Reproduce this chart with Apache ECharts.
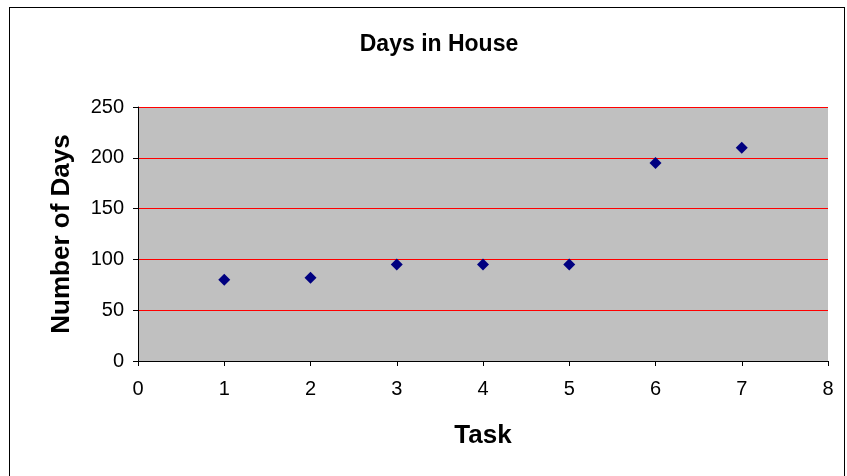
<!DOCTYPE html>
<html>
<head>
<meta charset="utf-8">
<script src="https://cdn.jsdelivr.net/npm/echarts@6/dist/echarts.min.js"></script>
<style>
  html, body { margin: 0; padding: 0; background: #fff; }
  #frame { position: absolute; left: 9px; top: 7px; width: 836px; height: 480px; border: 1px solid #000; box-sizing: border-box; }
  #chart { position: absolute; left: 0; top: 0; width: 847px; height: 476px; }
</style>
</head>
<body>
<div id="frame"></div>
<div id="chart"></div>
<script>
// data
var tasks = [1, 2, 3, 4, 5, 6, 7];
var days = [80, 82, 95, 95, 95, 195, 210];

var points = tasks.map(function (t, i) { return [t, days[i]]; });

var myChart = echarts.init(document.getElementById('chart'));
var font = 'Liberation Sans, Arial, sans-serif';

myChart.setOption({
  animation: false,
  title: {
    text: 'Days in House',
    left: 434, top: 28, textAlign: 'center',
    textStyle: { fontFamily: font, fontSize: 23, fontWeight: 'bold', color: '#000' }
  },
  grid: { left: 138, right: 19, top: 107, bottom: 115, show: true, backgroundColor: '#c0c0c0', borderWidth: 0 },
  xAxis: {
    type: 'value', min: 0, max: 8, interval: 1,
    name: 'Task', nameLocation: 'middle', nameGap: 62,
    nameTextStyle: { fontFamily: font, fontSize: 26, fontWeight: 'bold', color: '#000' },
    axisLine: { onZero: false, lineStyle: { color: '#000', width: 1 } },
    axisTick: { show: true, length: 5, lineStyle: { color: '#000' } },
    axisLabel: { fontFamily: font, fontSize: 20, color: '#000', margin: 18 },
    splitLine: { show: false }
  },
  yAxis: {
    type: 'value', min: 0, max: 250, interval: 50,
    name: 'Number of Days', nameLocation: 'middle', nameGap: 63,
    nameTextStyle: { fontFamily: font, fontSize: 26, fontWeight: 'bold', color: '#000' },
    axisLine: { show: true, lineStyle: { color: '#000', width: 1 } },
    axisTick: { show: true, length: 5, lineStyle: { color: '#000' } },
    axisLabel: { fontFamily: font, fontSize: 20, color: '#000', margin: 14 },
    splitLine: { show: true, lineStyle: { color: '#ff0000', width: 1 } }
  },
  series: [{
    type: 'scatter',
    data: points,
    symbol: 'diamond',
    symbolSize: 12,
    itemStyle: { color: '#000080', opacity: 1 }
  }]
});
</script>
</body>
</html>
